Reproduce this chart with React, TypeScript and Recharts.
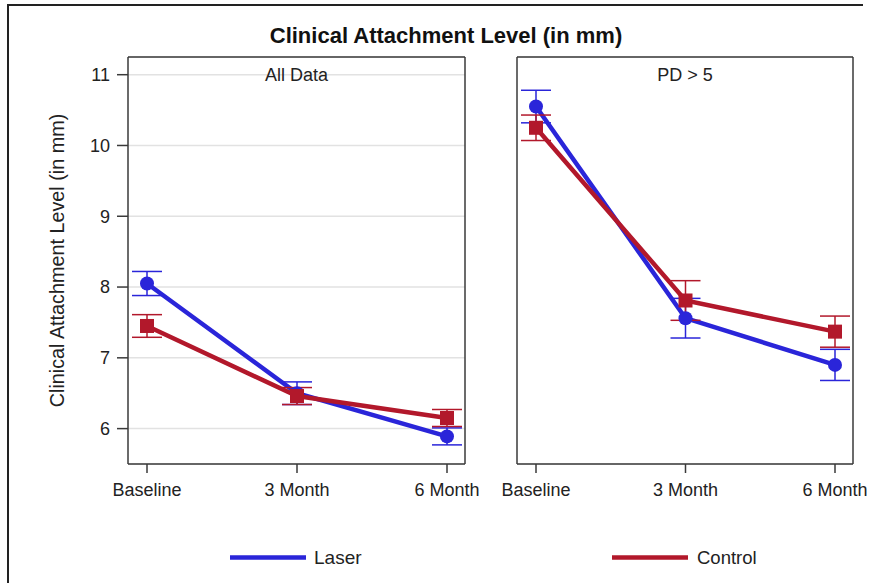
import React from 'react';
import { LineChart, Line, XAxis, YAxis, CartesianGrid, ErrorBar, ReferenceLine } from 'recharts';

// time points
const categories = ['Baseline', '3 Month', '6 Month'];

// "All Data" panel
const allLaser = [8.05, 6.5, 5.89];
const allLaserErr = [0.17, 0.16, 0.12];
const allControl = [7.45, 6.46, 6.15];
const allControlErr = [0.16, 0.12, 0.12];

// "PD > 5" panel
const pdLaser = [10.55, 7.56, 6.9];
const pdLaserErr = [0.23, 0.28, 0.22];
const pdControl = [10.25, 7.81, 7.37];
const pdControlErr = [0.18, 0.28, 0.22];

const yTicks = [6, 7, 8, 9, 10, 11];
const yDomain = [5.5, 11.25];

const seriesNames = ['Laser', 'Control'];
const BLUE = '#2A25D9';
const RED = '#B2182B';
const FONT = '"Liberation Sans", Arial, sans-serif';
const AXIS = '#3a3a3a';

const buildRows = (laser: number[], laserErr: number[], control: number[], controlErr: number[]) =>
    categories.map((time, i) => ({
        time,
        laser: laser[i],
        laserErr: laserErr[i],
        control: control[i],
        controlErr: controlErr[i],
    }));

const allData = buildRows(allLaser, allLaserErr, allControl, allControlErr);
const pdData = buildRows(pdLaser, pdLaserErr, pdControl, pdControlErr);

const CircleDot = (props: any) => {
    const { cx, cy, index } = props;
    if (cx == null || cy == null) return <g key={`c-${index}`} />;
    return <circle key={`c-${index}`} cx={cx} cy={cy} r={7} fill={BLUE} />;
};

const SquareDot = (props: any) => {
    const { cx, cy, index } = props;
    if (cx == null || cy == null) return <g key={`s-${index}`} />;
    return <rect key={`s-${index}`} x={cx - 7} y={cy - 7} width={14} height={14} fill={RED} />;
};

const tickStyle = { fontSize: 18, fill: '#222', fontFamily: FONT };

// right edge of the plot frame, taken from the chart's own offset
const rightEdge = ({ offset }: any) => [offset.left + offset.width];

function Panel({
    data,
    title,
    width,
    height,
    marginRight,
    yAxisWidth,
    showY,
}: {
    data: any[];
    title: string;
    width: number;
    height: number;
    marginRight: number;
    yAxisWidth: number;
    showY: boolean;
}) {
    return (
        <LineChart width={width} height={height} data={data} margin={{ top: 57, right: marginRight, left: 0, bottom: 0 }}>
            <CartesianGrid vertical={false} stroke="#e2e2e2" strokeWidth={1.5} />
            <CartesianGrid horizontal={false} verticalCoordinatesGenerator={rightEdge} stroke={AXIS} strokeWidth={1.5} />
            <XAxis
                dataKey="time"
                height={46}
                padding={{ left: 19, right: 18 }}
                tick={tickStyle}
                tickSize={9}
                tickMargin={10}
                stroke={AXIS}
                strokeWidth={1.5}
                tickLine={{ stroke: AXIS, strokeWidth: 1.5 }}
                interval={0}
            />
            <YAxis
                type="number"
                domain={yDomain}
                ticks={yTicks}
                width={yAxisWidth}
                tick={showY ? tickStyle : false}
                tickLine={showY ? { stroke: AXIS, strokeWidth: 1.5 } : false}
                tickSize={11}
                tickMargin={7}
                stroke={AXIS}
                strokeWidth={1.5}
                allowDataOverflow
                label={
                    showY
                        ? {
                              value: 'Clinical Attachment Level (in mm)',
                              angle: -90,
                              position: 'insideLeft',
                              offset: 57,
                              style: { textAnchor: 'middle', fontSize: 19.8, fill: '#222', fontFamily: FONT },
                          }
                        : undefined
                }
            />
            <ReferenceLine
                y={yDomain[1]}
                stroke={AXIS}
                strokeWidth={1.5}
                label={{ value: title, position: 'bottom', offset: 11, fontSize: 18, fill: '#222', fontFamily: FONT }}
            />
            <Line
                dataKey="laser"
                name={seriesNames[0]}
                stroke={BLUE}
                strokeWidth={4.5}
                dot={CircleDot}
                activeDot={false}
                isAnimationActive={false}
            >
                <ErrorBar dataKey="laserErr" width={15} stroke={BLUE} strokeWidth={1.5} direction="y" />
            </Line>
            <Line
                dataKey="control"
                name={seriesNames[1]}
                stroke={RED}
                strokeWidth={4.5}
                dot={SquareDot}
                activeDot={false}
                isAnimationActive={false}
            >
                <ErrorBar dataKey="controlErr" width={15} stroke={RED} strokeWidth={1.5} direction="y" />
            </Line>
        </LineChart>
    );
}

export default function App() {
    return (
        <div
            style={{
                position: 'absolute',
                left: 0,
                top: 0,
                width: 870,
                height: 583,
                overflow: 'hidden',
                background: '#fff',
                fontFamily: FONT,
            }}
        >
            <div
                style={{
                    position: 'absolute',
                    left: 7,
                    top: 4,
                    width: 854,
                    height: 620,
                    borderTop: '2px solid #222',
                    borderLeft: '2px solid #222',
                }}
            />
            <div style={{ position: 'absolute', left: 0, top: 0 }}>
                <Panel data={allData} title="All Data" width={482} height={510} marginRight={17} yAxisWidth={128} showY />
            </div>
            <div style={{ position: 'absolute', left: 470, top: 0 }}>
                <Panel data={pdData} title="PD > 5" width={400} height={510} marginRight={17} yAxisWidth={47} showY={false} />
            </div>
            <svg width={870} height={583} style={{ position: 'absolute', left: 0, top: 0, pointerEvents: 'none' }}>
                <text x={446} y={43} textAnchor="middle" fontSize={22} fontWeight="bold" fill="#111" fontFamily={FONT}>
                    Clinical Attachment Level (in mm)
                </text>
                <line x1={230} x2={306} y1={557.5} y2={557.5} stroke={BLUE} strokeWidth={4.5} />
                <text x={314} y={564} fontSize={19} fill="#222" fontFamily={FONT}>
                    {seriesNames[0]}
                </text>
                <line x1={612} x2={688} y1={557.5} y2={557.5} stroke={RED} strokeWidth={4.5} />
                <text x={697} y={564} fontSize={18.5} fill="#222" fontFamily={FONT}>
                    {seriesNames[1]}
                </text>
            </svg>
        </div>
    );
}
